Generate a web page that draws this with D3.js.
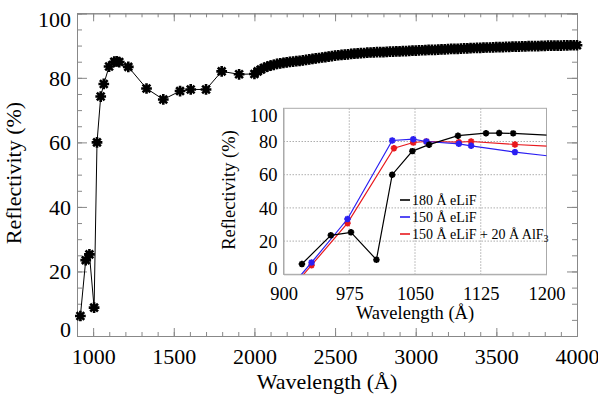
<!DOCTYPE html>
<html>
<head>
<meta charset="utf-8">
<script src="https://cdn.jsdelivr.net/npm/d3@7"></script>
<style>
body { margin: 0; background: #fff; }
svg text { font-family: "Liberation Serif", "Times New Roman", serif; fill: #000; }
</style>
</head>
<body>
<svg id="chart" width="598" height="395"></svg>
<script>
// 180 A eLiF: sparse points below 2000 A, then the dense scan up to 4000 A
var wave180 = [921, 954, 977, 1006, 1024, 1047, 1066, 1099, 1131, 1146, 1162, 1218, 1331, 1435, 1539, 1605, 1700, 1797, 1905,
  2000, 2020, 2040, 2060, 2080, 2100, 2120, 2140, 2160, 2180, 2200, 2220, 2240, 2260, 2280, 2300, 2320, 2340, 2360, 2380,
  2400, 2420, 2440, 2460, 2480, 2500, 2520, 2540, 2560, 2580, 2600, 2620, 2640, 2660, 2680, 2700, 2720, 2740, 2760, 2780,
  2800, 2820, 2840, 2860, 2880, 2900, 2920, 2940, 2960, 2980, 3000, 3020, 3040, 3060, 3080, 3100, 3120, 3140, 3160, 3180,
  3200, 3220, 3240, 3260, 3280, 3300, 3320, 3340, 3360, 3380, 3400, 3420, 3440, 3460, 3480, 3500, 3520, 3540, 3560, 3580,
  3600, 3620, 3640, 3660, 3680, 3700, 3720, 3740, 3760, 3780, 3800, 3820, 3840, 3860, 3880, 3900, 3920, 3940, 3960, 3980, 4000];
var refl180 = [6.2, 23.5, 25.3, 8.8, 60, 74.2, 78.1, 83.5, 85, 85.1, 84.9, 83.4, 76.7, 73.3, 75.9, 76.4, 76.4, 82, 81.1,
  81.2, 82.0, 82.6, 83.1, 83.5, 83.8, 84.05, 84.3, 84.5, 84.65, 84.8, 84.95, 85.05, 85.15, 85.25, 85.4, 85.55, 85.7, 85.85, 86.0,
  86.15, 86.3, 86.45, 86.6, 86.75, 86.9, 87.0, 87.1, 87.2, 87.3, 87.4, 87.5, 87.55, 87.65, 87.7, 87.8, 87.85, 87.9, 87.95, 88.0,
  88.0, 88.05, 88.1, 88.15, 88.2, 88.2, 88.25, 88.3, 88.35, 88.4, 88.45, 88.5, 88.55, 88.6, 88.65, 88.65, 88.7, 88.75, 88.8, 88.85,
  88.9, 88.95, 89.0, 89.0, 89.05, 89.1, 89.15, 89.2, 89.25, 89.3, 89.3, 89.35, 89.4, 89.4, 89.45, 89.5, 89.5, 89.55, 89.6, 89.6,
  89.65, 89.7, 89.7, 89.75, 89.75, 89.8, 89.8, 89.85, 89.85, 89.9, 89.9, 89.95, 89.95, 90.0, 90.0, 90.0, 90.05, 90.05, 90.1, 90.1, 90.1];

// 150 A eLiF
var wave150 = [910, 932, 973, 1024, 1048, 1063, 1100, 1114, 1164, 1216];
var refl150 = [-6.5, 7.1, 33.3, 80.6, 81.4, 80, 78.6, 77.4, 73.6, 70.5];

// 150 A eLiF + 20 A AlF3
var waveAlF = [910, 932, 973, 1026, 1048, 1063, 1100, 1114, 1164, 1216];
var reflAlF = [-8, 5.5, 30.8, 76, 79.4, 80, 79.6, 80, 78.2, 76.8];

var mainXTicks = [1000, 1500, 2000, 2500, 3000, 3500, 4000];
var mainYTicks = [0, 20, 40, 60, 80, 100];
var insetXTicks = [900, 975, 1050, 1125, 1200];
var insetYTicks = [0, 20, 40, 60, 80, 100];

var svg = d3.select("#chart");

function zip(w, r) { return w.map((d, i) => ({w: d, r: r[i]})); }

// 8-arm asterisk like the IDL symbol
var starSym = {
  draw: function(ctx, size) {
    var r = Math.sqrt(size) / 2, k = r * 0.72;
    ctx.moveTo(-r, 0); ctx.lineTo(r, 0);
    ctx.moveTo(0, -r); ctx.lineTo(0, r);
    ctx.moveTo(-k, -k); ctx.lineTo(k, k);
    ctx.moveTo(-k, k); ctx.lineTo(k, -k);
  }
};

// ---------- main plot ----------
var x = d3.scaleLinear().domain([900, 4000]).range([77, 577]);
var y = d3.scaleLinear().domain([0, 100]).range([336, 13.3]);
var axisCol = "#888";

function styleAxis(g) {
  g.select(".domain").attr("stroke", axisCol);
  g.selectAll(".tick line").attr("stroke", axisCol);
}

// minor ticks
var minorX = d3.range(900, 4001, 100);
var minorY = d3.range(0, 101, 5);
svg.append("g").attr("transform", "translate(0,336)")
  .call(d3.axisBottom(x).tickValues(minorX).tickSize(-4).tickFormat(""))
  .call(styleAxis);
svg.append("g").attr("transform", "translate(0,13.3)")
  .call(d3.axisTop(x).tickValues(minorX).tickSize(-4).tickFormat(""))
  .call(styleAxis);
svg.append("g").attr("transform", "translate(77,0)")
  .call(d3.axisLeft(y).tickValues(minorY).tickSize(-5).tickFormat(""))
  .call(styleAxis);
svg.append("g").attr("transform", "translate(577,0)")
  .call(d3.axisRight(y).tickValues(minorY).tickSize(-5).tickFormat(""))
  .call(styleAxis);

// major ticks with labels
var xb = svg.append("g").attr("transform", "translate(0,336)")
  .call(d3.axisBottom(x).tickValues(mainXTicks).tickSize(-8).tickFormat(d3.format("d")))
  .call(styleAxis);
xb.selectAll("text").attr("y", 28).attr("dy", 0).style("font-size", "22px");
svg.append("g").attr("transform", "translate(0,13.3)")
  .call(d3.axisTop(x).tickValues(mainXTicks).tickSize(-8).tickFormat(""))
  .call(styleAxis);
var yl = svg.append("g").attr("transform", "translate(77,0)")
  .call(d3.axisLeft(y).tickValues(mainYTicks).tickSize(-10).tickPadding(6))
  .call(styleAxis);
yl.selectAll("text").attr("dy", "0.33em").style("font-size", "22px");
// IDL pulls the end labels inside the axis range
yl.selectAll(".tick").filter(d => d === 0).select("text").attr("dy", "0.02em");
yl.selectAll(".tick").filter(d => d === 100).select("text").attr("dy", "0.6em");
svg.append("g").attr("transform", "translate(577,0)")
  .call(d3.axisRight(y).tickValues(mainYTicks).tickSize(-10).tickFormat(""))
  .call(styleAxis);
svg.selectAll(".domain").attr("stroke-width", 1);

svg.append("text").attr("x", 327).attr("y", 389).attr("text-anchor", "middle")
  .style("font-size", "22px").text("Wavelength (Å)");
svg.append("text").attr("transform", "translate(21,173) rotate(-90)").attr("text-anchor", "middle")
  .style("font-size", "22px").text("Reflectivity (%)");

var mainData = zip(wave180, refl180);
var line = d3.line().x(d => x(d.w)).y(d => y(d.r));
svg.append("path").datum(mainData).attr("d", line)
  .attr("fill", "none").attr("stroke", "#000").attr("stroke-width", 1);
svg.append("g").selectAll("path").data(mainData).enter().append("path")
  .attr("transform", d => "translate(" + x(d.w) + "," + y(d.r) + ")")
  .attr("d", d3.symbol().type(starSym).size(115))
  .attr("fill", "none").attr("stroke", "#000").attr("stroke-width", 2.6);

// ---------- inset ----------
var ix = d3.scaleLinear().domain([900, 1200]).range([283.5, 546.5]);
var iy = d3.scaleLinear().domain([0, 100]).range([274.3, 108.3]);

svg.append("rect").attr("x", 283.5).attr("y", 108.3).attr("width", 263).attr("height", 166)
  .attr("fill", "#fff");

var ig = svg.append("g");
// grid
ig.selectAll(".vg").data(insetXTicks.slice(1, -1)).enter().append("line")
  .attr("x1", d => ix(d)).attr("x2", d => ix(d)).attr("y1", 108.3).attr("y2", 274.3)
  .attr("stroke", "#999").attr("stroke-width", 0.8).attr("stroke-dasharray", "1.5,1.5");
ig.selectAll(".hg").data(insetYTicks.slice(1, -1)).enter().append("line")
  .attr("x1", 283.5).attr("x2", 546.5).attr("y1", d => iy(d)).attr("y2", d => iy(d))
  .attr("stroke", "#999").attr("stroke-width", 0.8).attr("stroke-dasharray", "1.5,1.5");

var ixa = ig.append("g").attr("transform", "translate(0,274.3)")
  .call(d3.axisBottom(ix).tickValues(insetXTicks).tickSize(0).tickFormat(d3.format("d")));
ixa.select(".domain").attr("stroke", "#aaa");
ixa.selectAll("text").attr("y", 20).attr("dy", "0.33em").style("font-size", "18.5px");
var iya = ig.append("g").attr("transform", "translate(283.5,0)")
  .call(d3.axisLeft(iy).tickValues(insetYTicks).tickSize(0).tickPadding(6));
iya.select(".domain").attr("stroke", "#aaa");
iya.selectAll("text").attr("dy", "0.33em").style("font-size", "18.5px");
iya.selectAll(".tick").filter(d => d === 0).select("text").attr("dy", "0.02em");
iya.selectAll(".tick").filter(d => d === 100).select("text").attr("dy", "0.7em");
ig.append("rect").attr("x", 283.5).attr("y", 108.3).attr("width", 263).attr("height", 166)
  .attr("fill", "none").attr("stroke", "#aaa").attr("stroke-width", 1);

ig.append("text").attr("x", 415).attr("y", 319).attr("text-anchor", "middle")
  .style("font-size", "18.5px").text("Wavelength (Å)");
ig.append("text").attr("transform", "translate(235,190) rotate(-90)").attr("text-anchor", "middle")
  .style("font-size", "18.5px").text("Reflectivity (%)");

svg.append("clipPath").attr("id", "insetClip").append("rect")
  .attr("x", 283.5).attr("y", 108.3).attr("width", 263).attr("height", 166);

var iline = d3.line().x(d => ix(d.w)).y(d => iy(d.r));
var series = [
  {data: zip(waveAlF, reflAlF), color: "#e8191e"},
  {data: zip(wave150, refl150), color: "#2b1ff2"},
  {data: zip(wave180, refl180).filter(d => d.w <= 1300), color: "#000"}
];
var plot = ig.append("g").attr("clip-path", "url(#insetClip)");
series.forEach(function(s) {
  plot.append("path").datum(s.data).attr("d", iline)
    .attr("fill", "none").attr("stroke", s.color).attr("stroke-width", 1.2);
  plot.append("g").selectAll("path").data(s.data).enter().append("path")
    .attr("transform", d => "translate(" + ix(d.w) + "," + iy(d.r) + ")")
    .attr("d", d3.symbol().type(starSym).size(42))
    .attr("fill", "none").attr("stroke", s.color).attr("stroke-width", 1.9);
});

// legend
var legend = [
  {label: "180 Å eLiF", color: "#000"},
  {label: "150 Å eLiF", color: "#2b1ff2"},
  {label: "150 Å eLiF + 20 Å AlF", sub: "3", color: "#e8191e"}
];
var lg = ig.selectAll(".leg").data(legend).enter().append("g")
  .attr("transform", (d, i) => "translate(400," + (200 + i * 17) + ")");
lg.append("line").attr("x1", 0).attr("x2", 10).attr("y1", 0).attr("y2", 0)
  .attr("stroke", d => d.color).attr("stroke-width", 1.6);
var lt = lg.append("text").attr("x", 12).attr("dy", "0.33em").style("font-size", "14px")
  .text(d => d.label);
lt.filter(d => d.sub).append("tspan").attr("dy", 3).style("font-size", "10px").text(d => d.sub);
</script>
</body>
</html>
